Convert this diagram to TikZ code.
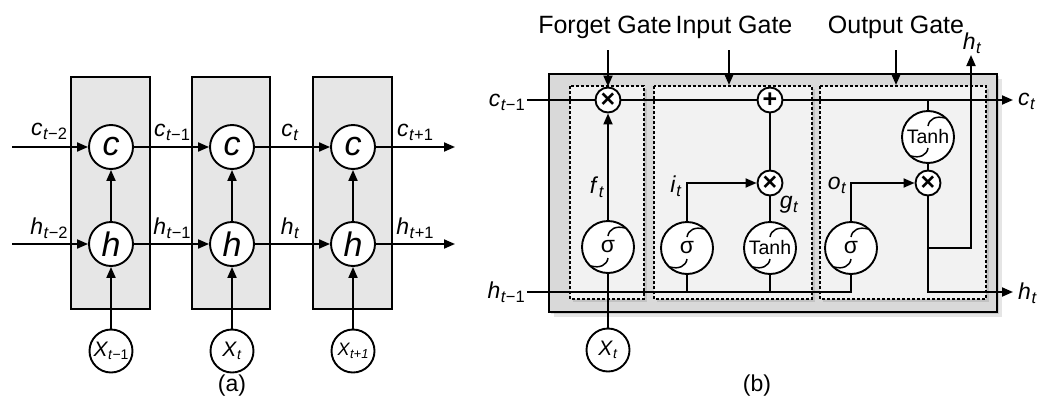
\documentclass[tikz,border=0pt]{standalone}
\usepackage{fontspec}
\setmainfont{Liberation Sans}
\usetikzlibrary{arrows.meta,calc}
\definecolor{cellgray}{RGB}{230,230,230}
\definecolor{outgray}{RGB}{217,217,217}
\definecolor{gategray}{RGB}{242,242,242}
\newcommand{\lab}[2]{\fontsize{23}{23}\selectfont\textit{#1}\kern0.5pt\raisebox{-4pt}{\fontsize{16.5}{16.5}\selectfont #2}}
\newcommand{\xin}[4]{\fontsize{#3}{#3}\selectfont\textit{X}\raisebox{-3pt}{\fontsize{#4}{#4}\selectfont #2}}
\tikzset{
  lw/.style={line width=1.9pt},
  ln/.style={lw},
  arr/.style={lw,-{Triangle[length=11pt,width=9pt]}},
  cellbox/.style={draw,lw,fill=cellgray},
  gatebox/.style={draw,line width=1.3pt,dash pattern=on 3pt off 2pt,fill=gategray},
  nd/.style={circle,draw,lw,fill=white,inner sep=0pt},
  big/.style={nd,minimum size=44pt,font=\fontsize{34}{34}\selectfont\itshape},
  inx/.style={nd,minimum size=43pt},
  op/.style={nd,minimum size=25pt,font=\fontsize{25}{25}\selectfont\bfseries},
  sigarcs/.style={path picture={
    \draw[line width=1.5pt]
      ([shift={(0pt,11pt)}]path picture bounding box.center)
        .. controls +(1pt,7pt) and +(-9pt,2.5pt) ..
      ([shift={(17pt,19pt)}]path picture bounding box.center);
    \draw[line width=1.5pt]
      ([shift={(0pt,-11pt)}]path picture bounding box.center)
        .. controls +(-1pt,-7pt) and +(9pt,-2.5pt) ..
      ([shift={(-17pt,-19pt)}]path picture bounding box.center);
  }},
  sig/.style={nd,minimum size=52pt,sigarcs,font=\fontsize{23}{23}\selectfont},
  tanhn/.style={nd,minimum size=52pt,sigarcs,font=\fontsize{19.5}{19.5}\selectfont},
  lbl/.style={inner sep=0pt},
  gatelbl/.style={inner sep=0pt,anchor=base,font=\fontsize{25}{25}\selectfont},
  captext/.style={inner sep=0pt,font=\fontsize{23}{23}\selectfont},
}
\begin{document}
\begin{tikzpicture}[x=1pt,y=-1pt]
\useasboundingbox (0,0) rectangle (1043,399);
% ---------------- (a) ----------------
\path[cellbox] (71,77) rectangle (150,309);
\path[cellbox] (192,77) rectangle (270,309);
\path[cellbox] (313,77) rectangle (392,309);
\node[big] (c1) at (111,147) {c};
\node[big] (c2) at (232,147) {c};
\node[big] (c3) at (353,147) {c};
\node[big] (h1) at (111,244) {h};
\node[big] (h2) at (232,244) {h};
\node[big] (h3) at (353,244) {h};
\node[inx] (x1) at (111,351) {\xin{}{\textit{t}−1}{21}{14}};
\node[inx] (x2) at (232,351) {\xin{}{\textit{t}}{21}{14}};
\node[inx] (x3) at (353,351) {\xin{}{\textit{t+1}}{18}{13}};
\coordinate (cin) at (12,147);
\coordinate (cout) at (455,147);
\coordinate (hin) at (12,244);
\coordinate (hout) at (455,244);
\draw[arr] (cin) -- (c1);
\draw[arr] (c1) -- (c2);
\draw[arr] (c2) -- (c3);
\draw[arr] (c3) -- (cout);
\draw[arr] (hin) -- (h1);
\draw[arr] (h1) -- (h2);
\draw[arr] (h2) -- (h3);
\draw[arr] (h3) -- (hout);
\draw[arr] (h1) -- (c1);
\draw[arr] (h2) -- (c2);
\draw[arr] (h3) -- (c3);
\draw[arr] (x1) -- (h1);
\draw[arr] (x2) -- (h2);
\draw[arr] (x3) -- (h3);
\node[lbl,anchor=base] (lc0) at (49,135) {\lab{c}{\textit{t}−2}};
\node[lbl,anchor=base] (lc1) at (172,136) {\lab{c}{\textit{t}−1}};
\node[lbl,anchor=base] (lc2) at (290,136) {\lab{c}{\textit{t}}};
\node[lbl,anchor=base] (lc3) at (415,136) {\lab{c}{\textit{t}+1}};
\node[lbl,anchor=base] (lh0) at (49,234) {\lab{h}{\textit{t}−2}};
\node[lbl,anchor=base] (lh1) at (172,234) {\lab{h}{\textit{t}−1}};
\node[lbl,anchor=base] (lh2) at (290,234) {\lab{h}{\textit{t}}};
\node[lbl,anchor=base] (lh3) at (415,234) {\lab{h}{\textit{t}+1}};
\node[captext] (capa) at (232,386) {(a)};
% ---------------- (b) ----------------
\fill[black,opacity=0.10] (554,79) rectangle (1002,317);
\fill[black,opacity=0.12] (551,76) rectangle (999,314);
\draw[lw,fill=outgray] (549,74) rectangle (997,312);
\fill[black,opacity=0.10] (573,89) rectangle (647,302);
\fill[black,opacity=0.10] (657,89) rectangle (815,302);
\fill[black,opacity=0.10] (823,89) rectangle (989,302);
\path[gatebox] (570,86) rectangle (644,299);
\path[gatebox] (654,86) rectangle (812,299);
\path[gatebox] (820,86) rectangle (986,299);
\node[op] (fx) at (608,100) {×};
\node[op] (pl) at (770,100) {+};
\node[sig] (fs) at (608,247) {σ};
\node[inx] (xt) at (608,350) {\xin{}{\textit{t}}{21}{14}};
\node[sig] (is) at (687,248) {σ};
\node[tanhn] (gt) at (770,248) {Tanh};
\node[op] (ix) at (770,183) {×};
\node[sig] (os) at (851,248) {σ};
\node[op] (ox) at (928,183) {×};
\node[tanhn] (ot) at (928,137) {Tanh};
\coordinate (cL) at (527,100);
\coordinate (cR) at (1013,100);
\coordinate (hL) at (527,292);
\coordinate (hC) at (851,292);
\coordinate (hR) at (1013,292);
\coordinate (fg) at (608,50);
\coordinate (ig) at (729,50);
\coordinate (igE) at (729,85);
\coordinate (og) at (896,50);
\coordinate (ogE) at (896,85);
\coordinate (tJ) at (928,100);
\coordinate (oJ) at (928,292);
\coordinate (bJ) at (928,248);
\coordinate (bC) at (971,248);
\coordinate (htop) at (971,55);
\draw[ln] (cL) -- (fx);
\draw[ln] (fx) -- (pl);
\draw[arr] (pl) -- (cR);
\draw[arr] (fg) -- (fx);
\draw[arr] (ig) -- (igE);
\draw[arr] (og) -- (ogE);
\draw[arr] (fs) -- (fx);
\draw[ln] (xt) -- (fs);
\draw[ln] (hL) -- (hC) -- (os);
\draw[ln] (is) -- (is |- hL);
\draw[ln] (gt) -- (gt |- hL);
\draw[arr] (is) |- (ix);
\draw[ln] (gt) -- (ix);
\draw[ln] (ix) -- (pl);
\draw[arr] (os) |- (ox);
\draw[ln] (tJ) -- (ot);
\draw[ln] (ot) -- (ox);
\draw[arr] (ox) -- (oJ) -- (hR);
\draw[arr] (bJ) -- (bC) -- (htop);
\node[gatelbl] (lfg) at (605,33) {Forget Gate};
\node[gatelbl] (lig) at (734,33) {Input Gate};
\node[gatelbl] (log) at (896,33) {Output Gate};
\node[lbl,anchor=east] (lcb) at (525,102) {\lab{c}{\textit{t}−1}};
\node[lbl,anchor=east] (lhb) at (525,292) {\lab{h}{\textit{t}−1}};
\node[lbl,anchor=west] (lct) at (1018,101) {\lab{c}{\textit{t}}};
\node[lbl,anchor=west] (lht) at (1018,293) {\lab{h}{\textit{t}}};
\node[lbl,anchor=base] (lhtop) at (972,49) {\lab{h}{\textit{t}}};
\node[lbl,anchor=base] (lf) at (597,193) {\lab{f}{\textit{t}}};
\node[lbl,anchor=base] (li) at (676,192) {\lab{i}{\textit{t}}};
\node[lbl,anchor=base] (lg) at (789,208) {\lab{g}{\textit{t}}};
\node[lbl,anchor=base] (lo) at (837,189) {\lab{o}{\textit{t}}};
\node[captext] (capb) at (757,386) {(b)};
\end{tikzpicture}
\end{document}
